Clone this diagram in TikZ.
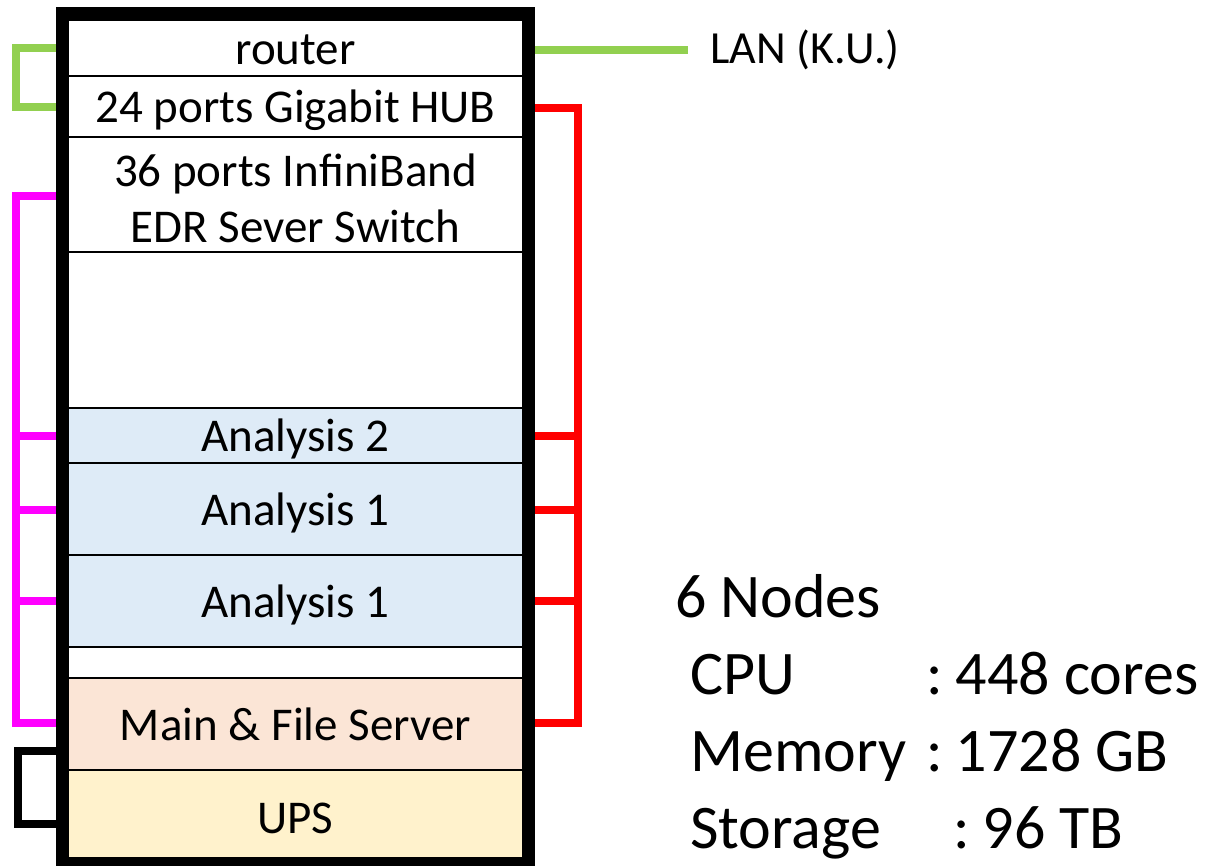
\documentclass[tikz,border=0pt]{standalone}
\usepackage{fontspec}
\setmainfont{Carlito}
\definecolor{lgreen}{HTML}{92D050}
\definecolor{lblue}{HTML}{DEEBF7}
\definecolor{lsalmon}{HTML}{FBE5D6}
\definecolor{lyellow}{HTML}{FFF2CC}
\definecolor{mag}{HTML}{FF00FF}
\definecolor{rred}{HTML}{FF0000}
\begin{document}
\begin{tikzpicture}[x=1pt,y=-1pt,
  row/.style={draw=black, line width=2pt, minimum width=455pt, inner sep=0pt,
    font=\fontsize{47}{56}\selectfont, align=center, fill=white},
  one/.style={text height=40pt, text depth=8pt},
  wire/.style={line width=8pt},
  big/.style={inner sep=0pt, anchor=base west, font=\fontsize{62}{74}\selectfont}]
\useasboundingbox (0,0) rectangle (1222,865);
% rack rows
\node[row, one, minimum height=56pt] (router) at (295.5,48) {router};
\node[row, one, minimum height=61pt] (hub) at (295.5,106.5) {24 ports Gigabit HUB};
\node[row, minimum height=115pt] (ib) at (295.5,194.5) {};
\node[inner sep=0pt, font=\fontsize{47}{56}\selectfont, align=center] (ibtext) at (295.5,198) {36 ports InfiniBand\\EDR Sever Switch};
\node[row, minimum height=156pt] (empty1) at (295.5,330) {};
\node[row, one, minimum height=55pt, fill=lblue] (a2) at (295.5,435.5) {Analysis 2};
\node[row, one, minimum height=92pt, fill=lblue] (a1a) at (295.5,509) {Analysis 1};
\node[row, one, minimum height=92pt, fill=lblue] (a1b) at (295.5,601) {Analysis 1};
\node[row, minimum height=31pt] (empty2) at (295.5,662.5) {};
\node[row, one, minimum height=92pt, fill=lsalmon] (main) at (295.5,724) {Main \& File Server};
\node[row, one, minimum height=95pt, fill=lyellow] (ups) at (295.5,817.5) {UPS};
% green (router loop and LAN)
\coordinate (lan) at (688,49.5);
\node[inner sep=0pt, anchor=base west, font=\fontsize{46}{55}\selectfont] (lantext) at (710,63) {LAN (K.U.)};
\draw[wire, lgreen] (router.west) -- ++(-51,0) |- (hub.west);
\draw[wire, lgreen] (router.east) ++(0,1.5) coordinate (re) -- (lan);
% red
\draw[wire, rred] (hub.east) ++(0,1.5) coordinate (he) -- ++(54,0) coordinate (rtop) |- ([yshift=1pt]main.east) coordinate (rbot);
\draw[wire, rred] (a2.east) -- (a2.east -| rtop);
\draw[wire, rred] ([yshift=-1pt]a1a.east) coordinate (ra) -- (ra -| rtop);
\draw[wire, rred] (a1b.east) -- (a1b.east -| rtop);
% magenta
\draw[wire, mag] ([yshift=-1.5pt]ib.west) coordinate (mt) -- ++(-51,0) coordinate (mtop) |- ([yshift=1pt]main.west);
\draw[wire, mag] (a2.west) -- (a2.west -| mtop);
\draw[wire, mag] ([yshift=-1pt]a1a.west) coordinate (ma) -- (ma -| mtop);
\draw[wire, mag] (a1b.west) -- (a1b.west -| mtop);
% black loop main/ups
\coordinate (b1) at ([yshift=-27pt]main.west);
\coordinate (b2) at ([yshift=-6.5pt]ups.west);
\draw[wire, black] (b1) -- ++(-49,0) |- (b2);
% thick rack frame
\draw[line width=12pt, black] (62,13) rectangle (529,863);
% specs
\node[big] (nodes) at (675,617) {6 Nodes};
\node[big] (cpu) at (690,694) {CPU};
\node[big] (cpuv) at (926,694) {:\hspace{13pt}448 cores};
\node[big] (mem) at (690,771) {Memory};
\node[big] (memv) at (926,771) {:\hspace{13pt}1728 GB};
\node[big] (sto) at (690,848) {Storage};
\node[big] (stov) at (953,848) {:\hspace{13pt}96 TB};
\end{tikzpicture}
\end{document}
